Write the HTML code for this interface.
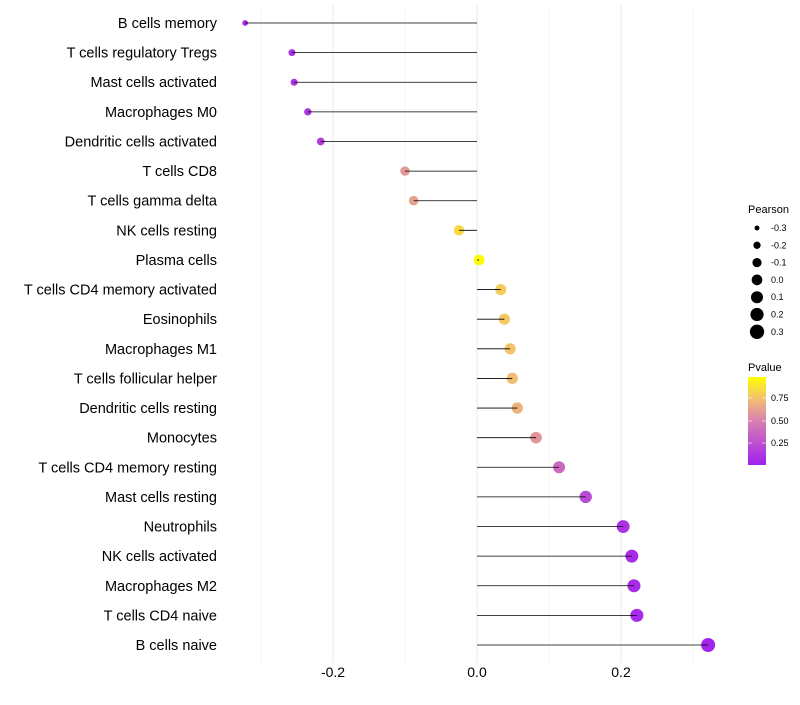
<!DOCTYPE html>
<html><head><meta charset="utf-8"><style>
body{margin:0;background:#fff;font-family:"Liberation Sans",sans-serif}
</style></head><body>
<svg id="c" width="800" height="700" xmlns="http://www.w3.org/2000/svg">
<defs><linearGradient id="pg" x1="0" y1="1" x2="0" y2="0">
<stop offset="0" stop-color="#a020f0"/><stop offset="0.5" stop-color="#d880b0"/><stop offset="0.75" stop-color="#f2c070"/><stop offset="1" stop-color="#ffff00"/></linearGradient></defs>
<g id="grid"></g><g id="marks"></g><g id="labels"></g>
<g font-size="9" fill="#000">
<text x="748" y="213" font-size="11">Pearson</text>
<g id="sizeleg"></g>
<text x="748" y="371" font-size="11">Pvalue</text>
<rect x="748" y="377" width="18" height="88" fill="url(#pg)"/>
<g stroke="#fff" stroke-width="1" opacity="0.6"><line x1="748" x2="752" y1="398" y2="398"/><line x1="762" x2="766" y1="398" y2="398"/><line x1="748" x2="752" y1="421" y2="421"/><line x1="762" x2="766" y1="421" y2="421"/><line x1="748" x2="752" y1="443" y2="443"/><line x1="762" x2="766" y1="443" y2="443"/></g>
<text x="771" y="401">0.75</text><text x="771" y="424">0.50</text><text x="771" y="446">0.25</text>
</g>
</svg>
<script>
const categories=["B cells memory","T cells regulatory  Tregs","Mast cells activated","Macrophages M0","Dendritic cells activated","T cells CD8","T cells gamma delta","NK cells resting","Plasma cells","T cells CD4 memory activated","Eosinophils","Macrophages M1","T cells follicular helper","Dendritic cells resting","Monocytes","T cells CD4 memory resting","Mast cells resting","Neutrophils","NK cells activated","Macrophages M2","T cells CD4 naive","B cells naive"];
const pearson=[-0.322,-0.257,-0.254,-0.235,-0.217,-0.100,-0.088,-0.025,0.003,0.033,0.038,0.046,0.049,0.056,0.082,0.114,0.151,0.203,0.215,0.218,0.222,0.321];
const pvalues=[0.05,0.1,0.1,0.12,0.15,0.6,0.63,0.85,0.98,0.8,0.78,0.76,0.74,0.7,0.58,0.38,0.22,0.1,0.07,0.06,0.05,0.02];
const xTicks=[-0.2,0.0,0.2];
const xTickLabels=["-0.2","0.0","0.2"];
const minorTicks=[-0.3,-0.1,0.1,0.3];
const sizeLegend=[-0.3,-0.2,-0.1,0.0,0.1,0.2,0.3];
const sizeLegendLabels=["-0.3","-0.2","-0.1","0.0","0.1","0.2","0.3"];
const NS="http://www.w3.org/2000/svg";
const x=v=>477+v*720;
const y=i=>23+i*(622/(categories.length-1));
const r=v=>Math.sqrt(Math.max(2.25,12.25+63.6*(v+0.257)));
const rl=v=>Math.sqrt(Math.max(4,6+75*(v+0.3)));
function mk(t,a,p){const e=document.createElementNS(NS,t);for(const k in a)e.setAttribute(k,a[k]);p.appendChild(e);return e;}
function lerp(a,b,t){return a.map((v,i)=>Math.round(v+(b[i]-v)*t));}
function col(p){const s=[[0,[160,32,240]],[0.5,[216,128,176]],[0.75,[242,192,112]],[1,[255,255,0]]];for(let i=1;i<s.length;i++){if(p<=s[i][0]){const c=lerp(s[i-1][1],s[i][1],(p-s[i-1][0])/(s[i][0]-s[i-1][0]));return `rgb(${c})`;}}return "rgb(255,255,0)";}
const g=document.getElementById('grid'),m=document.getElementById('marks'),L=document.getElementById('labels');
minorTicks.forEach(v=>{const l=mk('line',{x1:x(v),x2:x(v),y1:5,y2:663,stroke:'#f2f2f2','stroke-width':0.6},g);

});
xTicks.forEach((v,i)=>{const l=mk('line',{x1:x(v),x2:x(v),y1:5,y2:663,stroke:'#ebebeb','stroke-width':1.1},g);


const t=mk('text',{x:x(v),y:677,'text-anchor':'middle','font-size':14,fill:'#000'},L);t.textContent=xTickLabels[i];

});
categories.forEach((c,i)=>{
const d=mk('circle',{cx:x(pearson[i]),cy:y(i),r:r(pearson[i]),fill:col(pvalues[i])},m);


const ln=mk('line',{x1:x(0),x2:x(pearson[i]),y1:y(i),y2:y(i),stroke:'#000','stroke-width':0.8},m);


const t=mk('text',{x:217,y:y(i)+5,'text-anchor':'end','font-size':14.5,fill:'#000'},L);t.textContent=c;

});
const sl=document.getElementById('sizeleg');
sizeLegend.forEach((v,i)=>{const cy=228+i*17.3;
const c=mk('circle',{cx:757,cy:cy,r:rl(v),fill:'#000'},sl);


const t=mk('text',{x:771,y:cy+3},sl);t.textContent=sizeLegendLabels[i];

});
</script>
</body></html>
